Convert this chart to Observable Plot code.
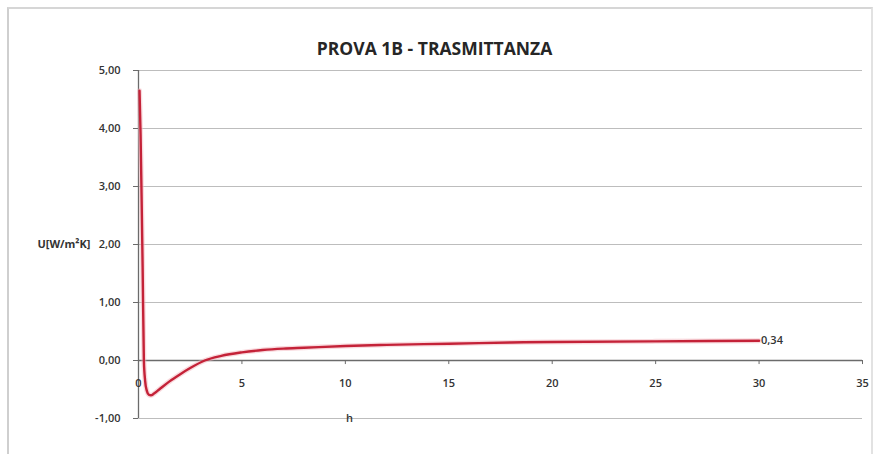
<!DOCTYPE html>
<html>
<head>
<meta charset="utf-8">
<script src="https://cdn.jsdelivr.net/npm/d3@7"></script>
<script src="https://cdn.jsdelivr.net/npm/@observablehq/plot@0.6"></script>
<style>
  html, body { margin: 0; padding: 0; background: #fff; }
  #wrap { position: relative; width: 875px; height: 454px; overflow: hidden; }
  #frame { position: absolute; left: 7px; top: 7px; width: 862px; height: 460px;
           border-left: 2px solid #cfcfcf; border-top: 2px solid #d6d6d6; border-right: 2px solid #e2e2e2;
           pointer-events: none; }
</style>
</head>
<body>
<div id="wrap"><div id="frame"></div></div>
<script>
const title = "PROVA 1B - TRASMITTANZA";
const yLabel = "U[W/m²K]";
const xLabel = "h";
const hours = [0.05, 0.1, 0.15, 0.2, 0.26, 0.32, 0.4, 0.5, 0.6, 0.75, 1, 1.5, 2, 2.5, 3.2, 4, 5, 6, 7, 8, 10, 12, 15, 18, 20, 25, 30];
const uValues = [4.65, 3.9, 2.8, 1.6, 0.0, -0.35, -0.52, -0.59, -0.6, -0.57, -0.5, -0.36, -0.24, -0.13, 0.0, 0.08, 0.14, 0.18, 0.205, 0.22, 0.25, 0.27, 0.29, 0.31, 0.32, 0.33, 0.34];
const xTicks = [0, 5, 10, 15, 20, 25, 30, 35];
const yTicks = [-1, 0, 1, 2, 3, 4, 5];
const gridY = [-1, 1, 2, 3, 4, 5];

const data = hours.map((h, i) => ({h, u: uValues[i]}));
const last = data[data.length - 1];
const fmt = d => d.toFixed(2).replace(".", ",");
const font = "'Open Sans', 'Liberation Sans', sans-serif";
const narrow = "'Liberation Sans Narrow', 'Open Sans', sans-serif";
const textColor = "#333";

const chart = Plot.plot({
  width: 875,
  height: 454,
  marginLeft: 138,
  marginRight: 13,
  marginTop: 70,
  marginBottom: 36,
  style: {fontFamily: font, fontSize: "11px", color: textColor, background: "transparent"},
  x: {domain: [0, 35], axis: null},
  y: {domain: [-1, 5], axis: null},
  marks: [
    Plot.ruleY(gridY, {stroke: "#bdbdbd", strokeWidth: 1.2}),
    Plot.ruleY([0], {stroke: "#6b6b6b", strokeWidth: 1.3}),
    Plot.ruleX([0], {stroke: "#6b6b6b", strokeWidth: 1.3}),
    Plot.axisY({ticks: yTicks, tickFormat: fmt, tickSize: 5, tickPadding: 13, stroke: "#6b6b6b", fill: textColor, fontWeight: 600, label: null}),
    Plot.ruleX(xTicks, {x: d => d, y1: 0, y2: -0.07, stroke: "#6b6b6b"}),
    Plot.text(xTicks, {x: d => d, y: 0, dy: 23, text: d => String(d), fill: textColor, fontWeight: 600}),
    Plot.text([xLabel], {x: 10.2, y: -1, text: d => d, fill: textColor, fontWeight: 600, fontSize: 11}),
    Plot.text([yLabel], {frameAnchor: "left", y: 2, dx: -48, textAnchor: "end", text: d => d, fill: textColor, fontFamily: narrow, fontWeight: 700, fontSize: 11}),
    Plot.line(data, {x: "h", y: "u", curve: "monotone-x", stroke: "#f4b6bd", strokeWidth: 5, strokeOpacity: 0.5}),
    Plot.line(data, {x: "h", y: "u", curve: "monotone-x", stroke: "#c42238", strokeWidth: 2.4}),
    Plot.text([last], {x: "h", y: "u", text: d => fmt(d.u), dx: 2, textAnchor: "start", fill: textColor, fontWeight: 600}),
    Plot.text([title], {frameAnchor: "top", dy: -28, dx: -66, text: d => d, fontSize: 17.5, fontWeight: 700, fill: "#262626"})
  ]
});
document.getElementById("wrap").prepend(chart);
</script>
</body>
</html>
